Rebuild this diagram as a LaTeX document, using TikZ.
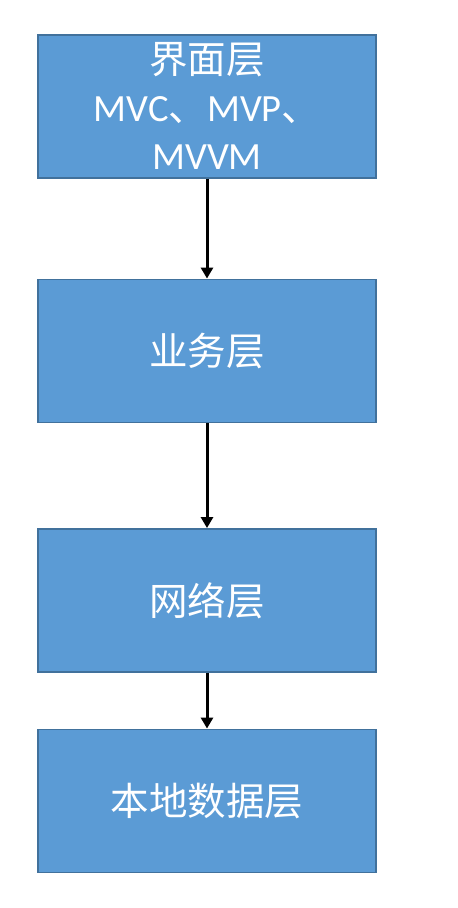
\documentclass[tikz,border=0pt]{standalone}
\usepackage{fontspec}
\setmainfont{Carlito}
\newfontfamily\cjk{Noto Sans CJK SC}
\usetikzlibrary{positioning,arrows.meta}

\definecolor{layerfill}{HTML}{5B9BD5}
\definecolor{layerline}{HTML}{41719C}

\begin{document}
\begin{tikzpicture}[x=1pt, y=1pt, node distance=100pt,
    layer/.style={draw=layerline, fill=layerfill, line width=1.5pt,
      minimum width=338pt, minimum height=143pt, inner sep=0pt,
      text=white, align=center, font=\fontsize{38.5}{48}\selectfont},
    flow/.style={-{Triangle[width=12pt,length=11pt]}, line width=3pt}]
    \useasboundingbox (0,0) rectangle (458,-908);

    \node[layer] (ui) at (207,-106.3) {{\cjk 界面层}\\MVC{\cjk 、}MVP{\cjk 、}\\MVVM};
    \node[layer, below=100pt of ui] (biz) {\cjk 业务层};
    \node[layer, below=105pt of biz] (net) {\cjk 网络层};
    \node[layer, below=56pt of net] (local) {\cjk 本地数据层};

    % arrows between layers
    \draw[flow] (ui) -- (biz);
    \draw[flow] (biz) -- (net);
    \draw[flow] (net) -- (local);
\end{tikzpicture}
\end{document}
